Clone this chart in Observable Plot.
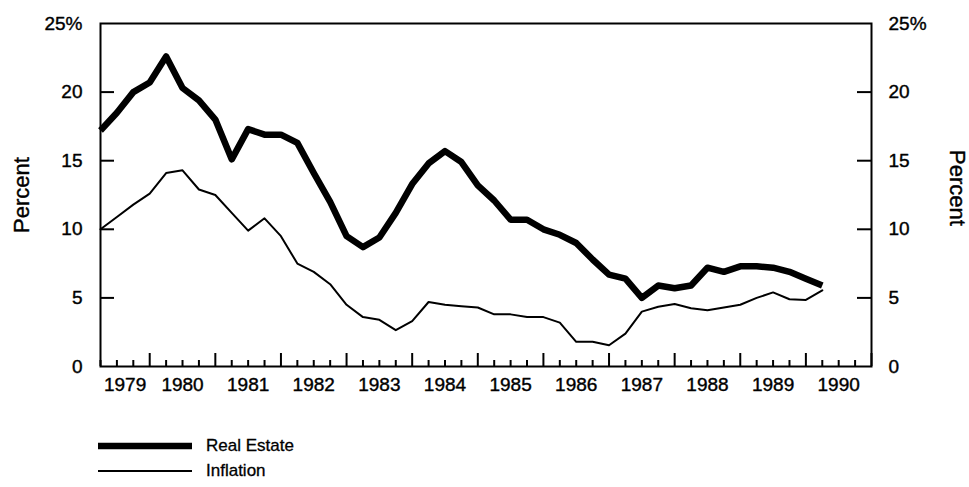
<!DOCTYPE html>
<html><head><meta charset="utf-8">
<script src="https://cdn.jsdelivr.net/npm/d3@7"></script>
<script src="https://cdn.jsdelivr.net/npm/@observablehq/plot@0.6"></script>
<style>
body{margin:0;background:#fff;font-family:"Liberation Sans",Arial,Helvetica,sans-serif;color:#000;}
#chart svg{display:block;}
#legend{height:87px;padding-left:98px;box-sizing:border-box;padding-top:33px;}
.row{display:flex;align-items:center;height:25px;font-size:17px;-webkit-text-stroke:0.3px #000;}
.row svg{margin-right:14px;display:block;}
</style></head><body>
<div id="chart"></div>
<div id="legend"></div>
<script>
// Quarterly observations, starting with 1979 Q2
const startYear = 1979.25;
const quarterStep = 0.25;
const realEstate = [17.2, 18.5, 20.0, 20.7, 22.6, 20.3, 19.4, 18.0, 15.1, 17.3, 16.9, 16.9,
  16.3, 14.1, 12.0, 9.5, 8.7, 9.4, 11.2, 13.3, 14.8, 15.7, 14.9, 13.2,
  12.1, 10.7, 10.7, 10.0, 9.6, 9.0, 7.8, 6.7, 6.4, 5.0, 5.9, 5.7,
  5.9, 7.2, 6.9, 7.3, 7.3, 7.2, 6.9, 6.4, 5.9];
const inflation = [10.0, 10.9, 11.8, 12.6, 14.1, 14.3, 12.9, 12.5, 11.2, 9.9, 10.8, 9.5,
  7.5, 6.9, 6.0, 4.5, 3.6, 3.4, 2.65, 3.3, 4.7, 4.5, 4.4, 4.3,
  3.8, 3.8, 3.6, 3.6, 3.2, 1.8, 1.8, 1.55, 2.4, 4.0, 4.35, 4.55,
  4.25, 4.1, 4.3, 4.5, 5.0, 5.4, 4.9, 4.85, 5.55];
const yearLabels = ["1979","1980","1981","1982","1983","1984","1985","1986","1987","1988","1989","1990"];
const yTicks = [0, 5, 10, 15, 20, 25];
const yTickLabels = ["0", "5", "10", "15", "20", "25%"];
const seriesNames = ["Real Estate", "Inflation"];
const axisTitle = "Percent";

const xDomain = [1979.25, 1991];
const W = 969, H = 400, mL = 100, mR = 98, mT = 23, mB = 34;
const frameW = W - mL - mR, frameH = H - mT - mB;

const reRows = realEstate.map((v, i) => ({t: startYear + i * quarterStep, v}));
const infRows = inflation.map((v, i) => ({t: startYear + i * quarterStep, v}));
const quarterTicks = d3.range(xDomain[0], xDomain[1] + 1e-9, quarterStep);
const majorTicks = quarterTicks.filter(t => Math.abs(t - Math.round(t)) < 1e-9);
const minorTicks = quarterTicks.filter(t => Math.abs(t - Math.round(t)) >= 1e-9);
const yearCenters = yearLabels.map(s => {
  const y = +s, a = Math.max(y, xDomain[0]), b = Math.min(y + 1, xDomain[1]);
  return {label: s, t: (a + b) / 2};
});
const yInner = yTicks.filter(v => v > 0 && v < 25);
const yLab = yTicks.map((v, i) => ({v, label: yTickLabels[i]}));

const font = "Liberation Sans, Arial, Helvetica, sans-serif";
const textStyle = {fill: "#000", stroke: "#000", strokeWidth: 0.4};
const chart = Plot.plot({
  width: W, height: H,
  marginLeft: mL, marginRight: mR, marginTop: mT, marginBottom: mB,
  style: {fontFamily: font, fontSize: "16px", background: "#fff", color: "#000", overflow: "visible"},
  x: {domain: xDomain, axis: null},
  y: {domain: [0, 25], axis: null},
  marks: [
    Plot.line(infRows, {x: "t", y: "v", stroke: "#000", strokeWidth: 2, strokeLinejoin: "round"}),
    Plot.line(reRows, {x: "t", y: "v", stroke: "#000", strokeWidth: 6.5, strokeLinejoin: "round", strokeLinecap: "butt"}),
    Plot.ruleX(majorTicks, {x: d => d, stroke: "#000", strokeWidth: 2, insetTop: frameH - 13}),
    Plot.ruleX(minorTicks, {x: d => d, stroke: "#000", strokeWidth: 2, insetTop: frameH - 6}),
    Plot.ruleY(yInner, {y: d => d, stroke: "#000", strokeWidth: 2, insetRight: frameW - 14}),
    Plot.ruleY(yInner, {y: d => d, stroke: "#000", strokeWidth: 2, insetLeft: frameW - 14}),
    Plot.frame({stroke: "#000", strokeWidth: 2}),
    Plot.text(yLab, {y: "v", text: "label", frameAnchor: "left", textAnchor: "end", dx: -18,
      fontWeight: d => d.v === 25 ? "bold" : "normal", fontSize: 19, ...textStyle}),
    Plot.text(yLab, {y: "v", text: "label", frameAnchor: "right", textAnchor: "start", dx: 17,
      fontWeight: d => d.v === 25 ? "bold" : "normal", fontSize: 19, ...textStyle}),
    Plot.text(yearCenters, {x: "t", text: "label", frameAnchor: "bottom", dy: 18, lineAnchor: "middle", fontSize: 19, ...textStyle}),
    Plot.text([axisTitle], {text: d => d, frameAnchor: "left", textAnchor: "middle", dx: -79, rotate: -90, fontSize: 22, ...textStyle}),
    Plot.text([axisTitle], {text: d => d, frameAnchor: "right", textAnchor: "middle", dx: 86, dy: -7, rotate: 90, fontSize: 22, ...textStyle})
  ]
});
document.getElementById("chart").appendChild(chart);

const legend = document.getElementById("legend");
[6.5, 2].forEach((sw, i) => {
  const row = document.createElement("div");
  row.className = "row";
  row.innerHTML = `<svg width="94" height="10"><line x1="0" x2="94" y1="5" y2="5" stroke="#000" stroke-width="${sw}" stroke-linecap="round"/></svg><span>${seriesNames[i]}</span>`;
  legend.appendChild(row);
});
</script>
</body></html>
